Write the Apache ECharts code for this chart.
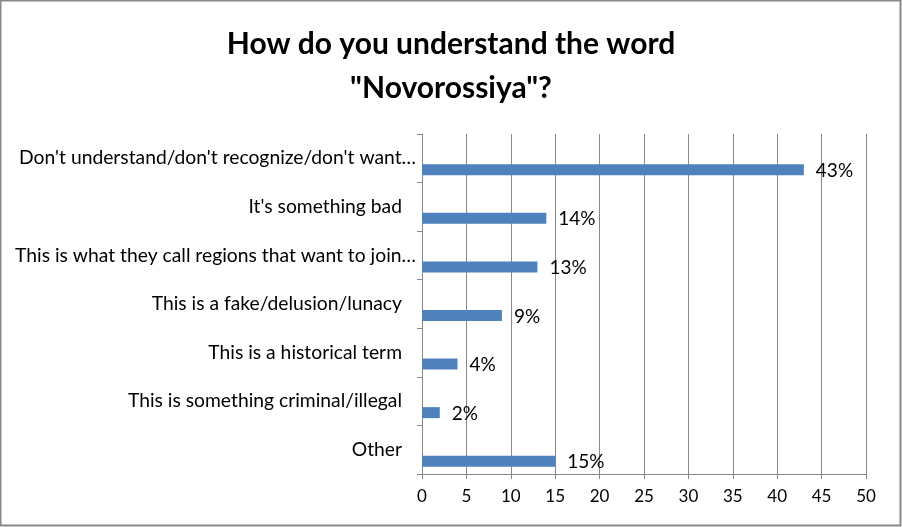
<!DOCTYPE html>
<html><head><meta charset="utf-8">
<script src="https://cdn.jsdelivr.net/npm/echarts@6/dist/echarts.min.js"></script>
<style>html,body{margin:0;padding:0;background:#fff}#c{width:902px;height:527px}</style>
</head><body><div id="c"></div>
<script>
const categories = [
  "Don't understand/don't recognize/don't want…",
  "It's something bad ",
  "This is what they call regions that want to join…",
  "This is a fake/delusion/lunacy ",
  "This is a historical term",
  "This is something criminal/illegal",
  "Other"
];
const values = [43, 14, 13, 9, 4, 2, 15];
const xTicks = [0, 5, 10, 15, 20, 25, 30, 35, 40, 45, 50];
const FONT = 'Lato';
const chart = echarts.init(document.getElementById('c'));
chart.setOption({
  animation: false,
  backgroundColor: '#fff',
  title: {
    text: 'How do you understand the word\n"Novorossiya"?',
    left: 'center', top: 17,
    textStyle: {fontFamily: FONT, fontWeight: 'bold', fontSize: 30, color: '#000', lineHeight: 44}
  },
  graphic: [{type: 'rect', shape: {x: 0.5, y: 0.5, width: 900, height: 525}, style: {fill: 'none', stroke: '#888', lineWidth: 2}, silent: true}],
  grid: {left: 422, right: 36, top: 134, bottom: 53, containLabel: false},
  xAxis: {
    type: 'value', min: xTicks[0], max: xTicks[xTicks.length - 1], interval: 5,
    axisLine: {show: true, lineStyle: {color: '#888'}},
    axisTick: {show: true, length: 5, lineStyle: {color: '#888'}},
    splitLine: {show: true, lineStyle: {color: '#888', width: 1}},
    axisLabel: {fontFamily: FONT, fontSize: 17, color: '#000', margin: 14}
  },
  yAxis: {
    type: 'category', data: categories, inverse: true,
    axisLine: {show: true, lineStyle: {color: '#888'}},
    axisTick: {show: true, length: 5, lineStyle: {color: '#888'}},
    axisLabel: {
      fontFamily: FONT, fontSize: 19.3, color: '#000', margin: 6,
      formatter: v => v.endsWith('…') ? '{t|' + v + '}' : '{p|' + v.trim() + '}',
      rich: {
        t: {fontFamily: FONT, fontSize: 19.3, color: '#000'},
        p: {fontFamily: FONT, fontSize: 19.3, color: '#000', padding: [0, 14, 0, 0]}
      }
    }
  },
  series: [
    {type: 'bar', data: values.map(() => null), barWidth: 11, barGap: '109%', silent: true},
    {type: 'bar', data: values, barWidth: 11, barGap: '109%',
     itemStyle: {color: '#4F81BD'},
     label: {show: true, position: 'right', distance: 12, formatter: '{c}%', fontFamily: FONT, fontSize: 19, color: '#000', offset: [0, 1]}}
  ]
});
</script></body></html>
